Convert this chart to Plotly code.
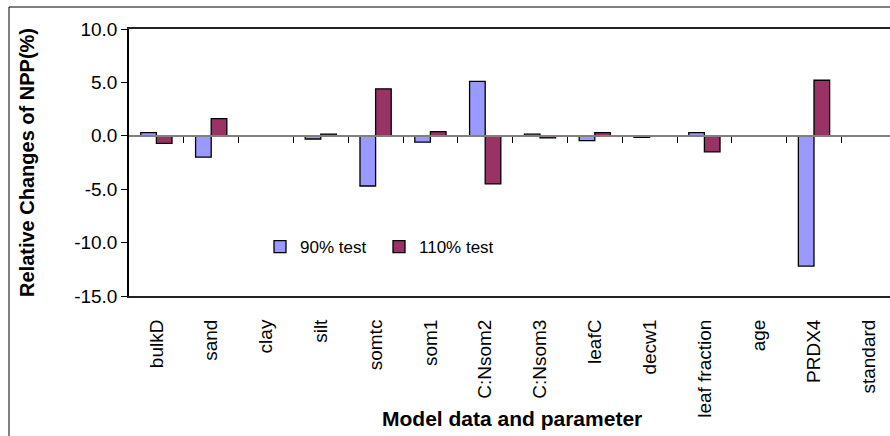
import plotly.graph_objects as go

# Sensitivity of NPP to +/-10% changes in model inputs
categories = ["bulkD", "sand", "clay", "silt", "somtc", "som1", "C:Nsom2",
              "C:Nsom3", "leafC", "decw1", "leaf fraction", "age", "PRDX4", "standard"]
test_90 = [0.3, -2.0, 0.0, -0.3, -4.7, -0.6, 5.1, 0.15, -0.45, -0.15, 0.3, 0.0, -12.2, 0.0]
test_110 = [-0.7, 1.6, 0.0, 0.15, 4.4, 0.4, -4.5, -0.2, 0.3, 0.0, -1.5, 0.0, 5.2, 0.0]
y_ticks = [-15, -10, -5, 0, 5, 10]

FONT = "Arial, Liberation Sans, sans-serif"
W, H = 890, 436
ML, MT, MB = 129, 29, 140
PW, PH = W - ML, H - MT - MB
CAT_W = 54.8  # px per category

n = len(categories)
x_hi = -0.5 + PW / CAT_W


def outline_widths(vals):
    # no outline on empty (zero) bars
    return [1.3 if v != 0 else 0 for v in vals]


fig = go.Figure()
fig.add_bar(x=categories, y=test_90, name="90% test",
            marker=dict(color="#9999FF",
                        line=dict(color="black", width=outline_widths(test_90))))
fig.add_bar(x=categories, y=test_110, name="110% test",
            marker=dict(color="#993366",
                        line=dict(color="black", width=outline_widths(test_110))))

# invisible trace so the zero-line axis is drawn
fig.add_scatter(x=[0], y=[0], xaxis="x2", mode="markers",
                marker=dict(opacity=0), showlegend=False, hoverinfo="skip")


def px_to_paper_x(px):
    return (px - ML) / PW


def px_to_paper_y(py):
    return (H - MB - py) / PH


fig.update_layout(
    width=W, height=H,
    margin=dict(l=ML, r=0, t=MT, b=MB, pad=0),
    paper_bgcolor="white", plot_bgcolor="white",
    barmode="group", bargap=0.43, bargroupgap=0.0,
    font=dict(family=FONT, size=19, color="black"),
    showlegend=True,
    legend=dict(orientation="h", x=px_to_paper_x(260), y=px_to_paper_y(247),
                xanchor="left", yanchor="middle", bgcolor="rgba(0,0,0,0)",
                font=dict(size=17), traceorder="normal",
                entrywidth=74, entrywidthmode="pixels"),
    xaxis=dict(type="category", range=[-0.5, x_hi], showgrid=False,
               showline=True, linecolor="#222", linewidth=2, mirror=True,
               ticks="", tickangle=-90, tickfont=dict(size=19),
               ticklabelstandoff=14),
    xaxis2=dict(overlaying="x", anchor="free", position=px_to_paper_y(136),
                range=[-0.5, x_hi], showgrid=False, zeroline=False,
                showline=True, linecolor="#808080", linewidth=2,
                tickmode="array", tickvals=[i + 0.5 for i in range(n - 1)],
                ticks="outside", ticklen=6, tickcolor="black", tickwidth=1,
                showticklabels=False, side="bottom"),
    yaxis=dict(range=[y_ticks[0], y_ticks[-1]], tickmode="array",
               tickvals=y_ticks, ticktext=[f"{v:.1f}" for v in y_ticks],
               showgrid=False, zeroline=False,
               showline=True, linecolor="black", linewidth=1.5,
               ticks="outside", ticklen=6, tickcolor="black",
               tickfont=dict(size=19),
               title=dict(text="<b>Relative Changes of NPP(%)</b>",
                          font=dict(size=20), standoff=34)),
    annotations=[dict(text="<b>Model data and parameter</b>",
                      xref="paper", yref="paper",
                      x=px_to_paper_x(512), y=px_to_paper_y(418),
                      xanchor="center", yanchor="middle", showarrow=False,
                      font=dict(size=21))],
    shapes=[dict(type="rect", xref="paper", yref="paper",
                 x0=px_to_paper_x(9), x1=px_to_paper_x(910),
                 y0=px_to_paper_y(460), y1=px_to_paper_y(7),
                 line=dict(color="black", width=1), fillcolor="rgba(0,0,0,0)",
                 layer="above")],
)

fig.write_html("out.html")
